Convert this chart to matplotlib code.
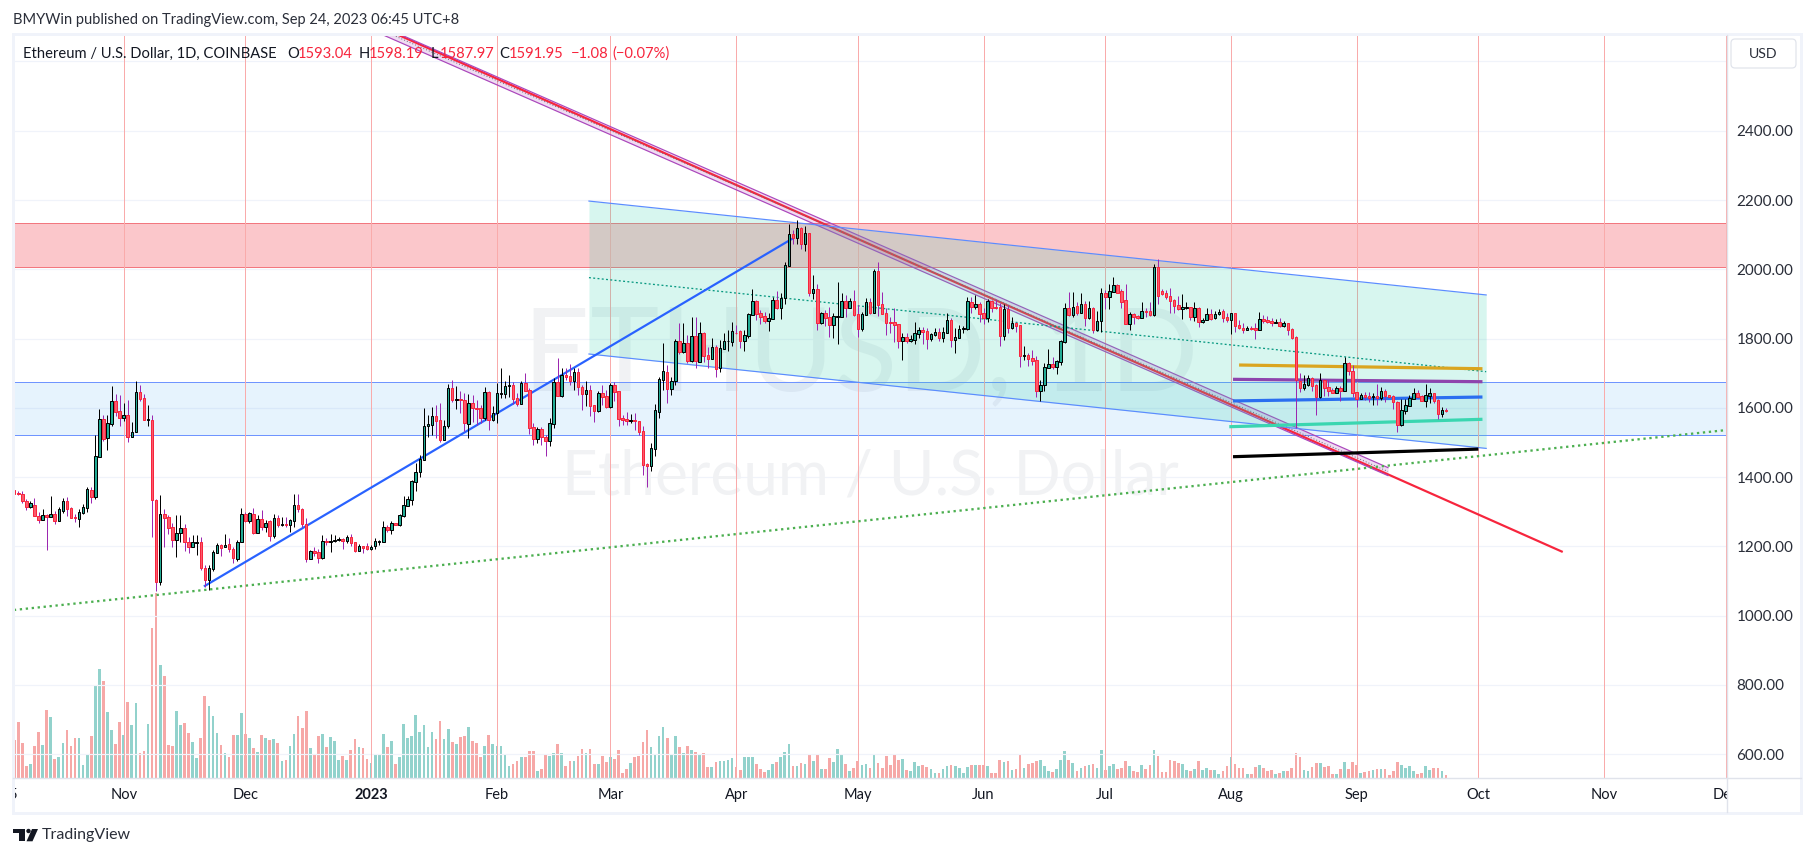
import matplotlib
matplotlib.use("Agg")
import matplotlib.pyplot as plt
import matplotlib.dates as mdates
from matplotlib.patches import Rectangle, FancyBboxPatch, Circle, Polygon
import numpy as np
import pandas as pd

first_date = "2022-10-05"

opens = [1362,1353,1350,1330,1314,1321,1289,1277,1292,1286,
1295,1274,1303,1330,1311,1285,1280,1297,1312,1364,
1343,1459,1567,1514,1554,1619,1590,1571,1578,1517,
1529,1645,1628,1566,1566,1333,1098,1295,1285,1255,
1219,1239,1252,1214,1199,1211,1214,1139,1103,1135,
1182,1203,1197,1206,1194,1164,1213,1295,1274,1295,
1239,1278,1256,1272,1231,1281,1262,1266,1262,1274,
1321,1307,1265,1164,1186,1184,1166,1217,1213,1217,
1219,1221,1216,1226,1212,1187,1200,1200,1193,1200,
1214,1213,1255,1248,1269,1263,1288,1318,1335,1387,
1415,1450,1549,1551,1576,1564,1508,1548,1656,1623,
1627,1624,1554,1613,1601,1599,1570,1645,1565,1584,
1641,1641,1662,1665,1628,1612,1672,1651,1544,1511,
1538,1516,1505,1554,1675,1634,1694,1692,1679,1703,
1659,1641,1651,1607,1591,1642,1634,1603,1666,1648,
1571,1567,1563,1565,1562,1532,1437,1431,1482,1589,
1681,1703,1654,1677,1793,1762,1786,1735,1807,1733,
1815,1752,1741,1775,1714,1771,1792,1791,1817,1822,
1794,1808,1869,1909,1873,1864,1850,1857,1910,1889,
1918,2010,2101,2091,2119,2074,2104,1933,1942,1846,
1873,1861,1839,1863,1863,1908,1889,1908,1870,1828,
1869,1905,1875,1995,1899,1873,1847,1847,1841,1793,
1806,1794,1797,1814,1825,1821,1799,1811,1819,1803,
1817,1853,1797,1803,1827,1829,1907,1891,1899,1873,
1859,1908,1890,1890,1807,1884,1830,1844,1838,1750,
1752,1743,1737,1649,1665,1716,1726,1718,1733,1791,
1887,1868,1893,1874,1899,1858,1887,1825,1850,1933,
1921,1935,1954,1936,1910,1843,1871,1864,1860,1880,
1879,1868,2006,1936,1931,1922,1910,1896,1886,1888,
1890,1862,1888,1848,1855,1871,1858,1871,1879,1861,
1854,1873,1838,1832,1826,1832,1830,1826,1856,1853,
1850,1846,1848,1836,1844,1827,1804,1679,1657,1667,
1685,1666,1631,1680,1659,1652,1644,1658,1650,1729,
1706,1645,1627,1636,1635,1630,1633,1629,1649,1636,
1634,1617,1550,1592,1606,1627,1642,1633,1621,1635,
1642,1622,1583,1593.04]

highs = [1385,1361,1361,1336,1330,1339,1300,1307,1295,1345,
1303,1314,1339,1342,1314,1295,1307,1322,1371,1371,
1523,1596,1579,1578,1663,1640,1637,1615,1622,1559,
1677,1666,1640,1608,1579,1336,1348,1307,1290,1268,
1290,1290,1266,1228,1233,1233,1226,1146,1146,1189,
1209,1207,1235,1223,1199,1220,1311,1300,1300,1311,
1290,1305,1276,1276,1293,1290,1284,1285,1278,1351,
1351,1310,1281,1189,1199,1194,1233,1223,1237,1233,
1228,1225,1233,1235,1214,1207,1201,1209,1204,1223,
1220,1273,1262,1274,1269,1295,1345,1345,1391,1440,
1464,1599,1579,1603,1608,1614,1565,1669,1680,1663,
1649,1642,1640,1637,1622,1608,1661,1649,1605,1671,
1714,1677,1695,1676,1642,1678,1700,1656,1555,1544,
1546,1522,1570,1685,1744,1714,1714,1727,1714,1714,
1666,1679,1666,1607,1649,1666,1652,1671,1676,1648,
1579,1588,1582,1584,1563,1548,1440,1498,1611,1690,
1786,1724,1690,1799,1844,1846,1810,1863,1861,1849,
1820,1777,1801,1781,1796,1815,1825,1847,1839,1825,
1825,1873,1942,1911,1883,1878,1873,1921,1937,1931,
2022,2131,2113,2142,2123,2125,2106,1984,1958,1878,
1883,1890,1873,1962,1931,1926,1918,1940,1897,1878,
1916,1916,2000,2022,1935,1887,1863,1887,1843,1815,
1815,1810,1849,1834,1834,1832,1815,1832,1830,1834,
1875,1858,1830,1839,1836,1919,1921,1926,1907,1887,
1913,1911,1913,1902,1899,1897,1861,1849,1839,1779,
1759,1767,1750,1680,1729,1770,1746,1738,1796,1902,
1935,1935,1906,1933,1908,1909,1890,1880,1945,1940,
1959,1977,1959,1942,1958,1878,1873,1867,1906,1887,
1907,2015,2030,1942,1940,1945,1913,1923,1929,1906,
1890,1905,1890,1858,1887,1884,1880,1884,1884,1873,
1875,1875,1854,1844,1836,1836,1844,1877,1868,1866,
1858,1856,1858,1852,1846,1830,1807,1700,1694,1695,
1688,1669,1700,1682,1680,1656,1663,1663,1746,1733,
1725,1647,1644,1646,1645,1642,1669,1659,1654,1637,
1636,1619,1625,1625,1637,1656,1652,1637,1669,1656,
1644,1625,1602,1598.19]

lows = [1317,1348,1326,1305,1310,1287,1268,1276,1189,1286,
1265,1273,1297,1287,1281,1270,1256,1295,1299,1326,
1338,1459,1505,1478,1548,1576,1548,1563,1502,1517,
1529,1620,1565,1548,1228,1071,1088,1199,1236,1199,
1170,1213,1186,1180,1199,1175,1132,1084,1074,1128,
1181,1172,1197,1185,1153,1159,1212,1271,1268,1236,
1239,1247,1241,1215,1223,1257,1259,1257,1241,1257,
1300,1257,1155,1164,1172,1153,1164,1204,1185,1213,
1216,1192,1211,1201,1183,1186,1182,1191,1189,1194,
1204,1213,1242,1236,1263,1259,1286,1318,1319,1361,
1401,1449,1517,1521,1512,1502,1507,1543,1618,1598,
1586,1534,1514,1560,1550,1555,1565,1536,1563,1557,
1628,1628,1632,1611,1605,1612,1648,1525,1493,1500,
1493,1461,1490,1543,1634,1632,1680,1666,1652,1637,
1594,1605,1577,1560,1589,1608,1599,1599,1621,1548,
1551,1551,1557,1536,1522,1406,1373,1418,1462,1572,
1653,1615,1637,1666,1755,1759,1729,1732,1716,1733,
1733,1716,1741,1690,1704,1769,1765,1780,1812,1773,
1765,1801,1867,1854,1842,1846,1823,1856,1884,1857,
1900,2010,2072,2073,2059,2054,1923,1915,1825,1842,
1836,1806,1802,1784,1861,1863,1887,1866,1805,1823,
1868,1872,1873,1865,1871,1810,1815,1791,1774,1738,
1786,1791,1784,1801,1784,1770,1794,1807,1793,1791,
1815,1777,1759,1801,1817,1825,1873,1884,1849,1842,
1849,1878,1884,1779,1796,1815,1827,1820,1717,1738,
1721,1724,1632,1620,1649,1714,1711,1698,1724,1788,
1866,1863,1868,1873,1836,1856,1817,1823,1820,1886,
1886,1935,1931,1887,1842,1825,1842,1856,1858,1863,
1865,1865,1900,1925,1915,1875,1875,1882,1857,1884,
1854,1852,1834,1844,1854,1854,1856,1869,1848,1849,
1813,1819,1827,1815,1825,1825,1799,1826,1846,1844,
1836,1844,1834,1833,1810,1798,1541,1646,1653,1663,
1650,1579,1629,1634,1635,1642,1642,1621,1650,1696,
1630,1603,1625,1623,1618,1608,1608,1623,1618,1630,
1597,1531,1548,1582,1605,1626,1628,1619,1603,1613,
1613,1569,1575,1587.97]

closes = [1352,1351,1330,1314,1324,1289,1277,1292,1286,1295,
1274,1307,1330,1309,1283,1281,1298,1313,1365,1343,
1460,1567,1511,1555,1619,1589,1571,1578,1517,1529,
1645,1626,1566,1567,1333,1098,1295,1283,1254,1219,
1240,1252,1213,1199,1212,1214,1137,1104,1137,1183,
1203,1196,1203,1192,1166,1214,1295,1274,1296,1239,
1279,1256,1269,1231,1281,1262,1266,1263,1275,1321,
1307,1265,1164,1186,1182,1167,1217,1213,1217,1220,
1221,1217,1226,1211,1187,1200,1196,1194,1199,1215,
1216,1255,1247,1269,1263,1290,1319,1336,1388,1416,
1451,1549,1552,1576,1563,1508,1549,1656,1624,1627,
1623,1555,1613,1601,1597,1571,1645,1566,1584,1642,
1644,1663,1665,1627,1612,1672,1650,1543,1510,1538,
1515,1505,1555,1675,1635,1694,1690,1678,1703,1659,
1641,1651,1606,1591,1642,1632,1603,1666,1647,1569,
1565,1563,1565,1561,1531,1436,1431,1483,1594,1682,
1706,1654,1678,1793,1762,1786,1735,1807,1735,1815,
1750,1742,1775,1713,1772,1793,1793,1822,1816,1794,
1809,1870,1908,1872,1863,1850,1858,1910,1887,1918,
2011,2101,2091,2118,2072,2104,1933,1942,1846,1873,
1860,1839,1864,1865,1908,1889,1908,1868,1829,1870,
1905,1875,1995,1898,1872,1846,1845,1840,1793,1806,
1793,1798,1815,1825,1820,1799,1812,1819,1802,1818,
1853,1797,1805,1827,1831,1908,1891,1899,1872,1859,
1908,1889,1888,1807,1884,1831,1844,1837,1750,1752,
1742,1736,1649,1666,1717,1726,1718,1734,1792,1887,
1868,1892,1874,1899,1858,1887,1825,1851,1933,1920,
1936,1954,1933,1907,1843,1871,1862,1860,1879,1877,
1868,2006,1924,1929,1920,1908,1895,1885,1890,1890,
1863,1887,1849,1855,1870,1856,1872,1878,1860,1854,
1873,1837,1831,1825,1832,1827,1826,1856,1851,1848,
1846,1848,1837,1845,1826,1801,1680,1658,1669,1685,
1664,1631,1680,1658,1650,1644,1657,1650,1729,1705,
1644,1627,1636,1631,1629,1633,1629,1649,1634,1632,
1616,1550,1593,1607,1629,1642,1632,1621,1636,1642,
1621,1583,1593,1591.95]

volumes = [114,168,105,36,42,96,138,99,204,183,
57,63,105,144,96,120,120,39,72,126,
279,327,291,198,144,102,168,129,228,159,
225,75,81,162,450,555,339,306,99,96,
201,159,165,135,108,60,120,246,216,186,
135,99,75,63,129,129,195,132,120,90,
78,129,120,114,117,105,51,54,96,132,
186,150,201,90,69,126,132,93,123,111,
54,66,54,84,117,93,90,57,45,72,
72,132,93,111,42,63,162,120,126,189,
138,159,93,138,117,171,117,147,108,102,
123,126,153,111,105,63,96,129,102,96,
96,69,36,42,51,63,63,81,81,21,
27,72,66,75,102,75,36,51,51,66,
87,75,87,42,42,66,48,63,57,84,
15,27,45,63,66,108,144,93,69,126,
153,120,69,126,93,75,96,84,78,72,
75,33,33,48,51,51,54,60,33,24,
63,63,63,42,27,18,24,42,48,63,
78,102,36,36,45,42,72,51,72,27,
27,60,48,87,69,42,21,30,51,39,
42,30,72,45,30,66,39,69,54,57,
24,21,48,36,39,33,27,15,15,27,
36,39,36,30,15,33,39,39,39,39,
36,15,15,54,48,51,24,27,72,30,
42,45,51,54,36,21,18,27,54,81,
54,45,21,30,36,39,42,30,84,24,
36,42,27,30,51,36,21,18,39,27,
39,84,66,18,18,54,51,45,42,24,
21,27,51,24,30,24,24,12,21,36,
63,42,30,30,12,12,33,39,30,21,
24,12,15,21,21,30,75,63,24,21,
33,45,45,33,36,12,12,27,48,27,
48,39,15,18,21,24,27,27,27,9,
21,48,39,30,36,21,12,15,36,24,
30,30,21,9]

price_ticks = [600, 800, 1000, 1200, 1400, 1600, 1800, 2000, 2200, 2400]
month_dates = ["2022-11-01", "2022-12-01", "2023-01-01", "2023-02-01", "2023-03-01", "2023-04-01",
               "2023-05-01", "2023-06-01", "2023-07-01", "2023-08-01", "2023-09-01", "2023-10-01",
               "2023-11-01", "2023-12-01"]
month_labels = ["Nov", "Dec", "2023", "Feb", "Mar", "Apr", "May", "Jun", "Jul", "Aug", "Sep", "Oct", "Nov", "Dec"]
first_tick = "2022-10-05"

red_zone = (2006, 2133)
blue_zone = (1521, 1674)

wedge_dates = ("2023-02-23 17:00", "2023-10-02 22:00")
wedge_top = (2197, 1926)
wedge_bottom = (1755.5, 1483)
wedge_mid = (1976, 1704.5)

rise_dates = ("2022-11-21", "2023-04-15")
rise_prices = (1086, 2089.5)
support_dates = ("2022-10-04 22:00", "2023-12-01 05:00")
support_prices = (1016.5, 1536)
fall_dates = ("2023-01-01", "2023-10-21 19:00")
fall_prices = (2711.6, 1184)
chan_dates = ("2023-01-01", "2023-09-08 17:00")
chan_upper = (2714.8, 1427.5)
chan_lower = (2691.7, 1404.4)
chan_mid = (2703.8, 1416.4)

gold_dates = ("2023-08-03", "2023-10-02")
gold_prices = (1723.7, 1713)
violet_dates = ("2023-08-01 12:00", "2023-10-02")
violet_prices = (1682.4, 1675.5)
azure_dates = ("2023-08-01 12:00", "2023-10-02")
azure_prices = (1620, 1631.3)
mint_dates = ("2023-07-31 14:00", "2023-10-02")
mint_prices = (1545.6, 1567)
black_dates = ("2023-08-01 12:00", "2023-10-01")
black_prices = (1459, 1481)

W, H = 1815, 857
PANE_L, PANE_R, PANE_T, PANE_B = 13.4, 1727.0, 35.0, 778.0
PX_PER_DAY = 4.056
NOV1_PX = 123.7
FONT = "Lato"
TEXT = "#131722"
VOL_TOP = (PANE_B - PANE_T) * 3


def num(d):
    return mdates.datestr2num(d)


def px(v):
    return v * 0.72


fig = plt.figure(figsize=(W / 100, H / 100), dpi=100, facecolor="white")


def rect(l, t, r, b):
    return [l / W, 1 - b / H, (r - l) / W, (b - t) / H]


vax = fig.add_axes(rect(PANE_L, PANE_T, PANE_R, PANE_B), zorder=1)
ax = fig.add_axes(rect(PANE_L, PANE_T, PANE_R, PANE_B), zorder=2)
ax.patch.set_visible(False)

nov1 = num("2022-11-01")
xlim = (nov1 - (NOV1_PX - PANE_L) / PX_PER_DAY, nov1 + (PANE_R - NOV1_PX) / PX_PER_DAY)
ylim = (531.5, 2676.4)
for a in (ax, vax):
    a.set_xlim(xlim)
    for s in a.spines.values():
        s.set_visible(False)
ax.set_ylim(ylim)
vax.set_ylim(0, VOL_TOP)
vax.set_xticks([])
vax.set_yticks([])
ax.set_xticks([])

dates = pd.date_range(first_date, periods=len(closes))
xs = mdates.date2num(dates)
o, h, l, c = map(np.array, (opens, highs, lows, closes))
up = c >= o

# volume
vax.bar(xs[up], np.array(volumes)[up], width=0.66, color="#26a69a", alpha=0.5, linewidth=0)
vax.bar(xs[~up], np.array(volumes)[~up], width=0.66, color="#ef5350", alpha=0.5, linewidth=0)

# grid
ax.hlines(price_ticks + [2600], *xlim, color="#f0f3fa", lw=px(1.2), zorder=0.5)

# watermark
ax.text(0.4945, 0.5 + (PANE_T + (PANE_B - PANE_T) / 2 - 358) / (PANE_B - PANE_T), "ETHUSD, 1D", transform=ax.transAxes,
        ha="center", va="center", fontsize=84, family=FONT, color="#f1f2f4", zorder=0.6)
ax.text(0.5, 0.5 + (PANE_T + (PANE_B - PANE_T) / 2 - 477) / (PANE_B - PANE_T), "Ethereum / U.S. Dollar", transform=ax.transAxes,
        ha="center", va="center", fontsize=44.7, family=FONT, color="#f1f2f4", zorder=0.6)

# zones
ax.axhspan(*red_zone, facecolor="#f23645", alpha=0.28, edgecolor="none", zorder=1)
ax.axhline(red_zone[0], color="#f2777f", lw=px(1), zorder=1.1)
ax.axhline(red_zone[1], color="#f2777f", lw=px(1), zorder=1.1)
ax.axhspan(*blue_zone, facecolor="#2196f3", alpha=0.11, edgecolor="none", zorder=1)
ax.axhline(blue_zone[0], color="#6f94ff", lw=px(1), zorder=1.1)
ax.axhline(blue_zone[1], color="#6f94ff", lw=px(1), zorder=1.1)

# month lines
for d in [first_tick] + month_dates:
    ax.axvline(num(d), color="#f9abab", lw=px(1), zorder=1.2)

# falling line under the wedge
ax.plot([num(d) for d in fall_dates], fall_prices, color="#f7253d", lw=px(2.2), zorder=1.3, solid_capstyle="butt")
cx = [num(d) for d in chan_dates]
ax.fill_between(cx, chan_lower, chan_upper, color="#9c27b0", alpha=0.16, linewidth=0, zorder=1.25)
ax.plot(cx, chan_upper, color="#ab47bc", lw=px(1.2), zorder=1.3)
ax.plot(cx, chan_lower, color="#ab47bc", lw=px(1.2), zorder=1.3)
ax.plot(cx, chan_mid, color="#6b6e78", lw=px(1), ls=(0, (1, 2)), zorder=1.3)

# wedge
wx = [num(d) for d in wedge_dates]
ax.fill_between(wx, wedge_bottom, wedge_top, color="#37d2af", alpha=0.2, linewidth=0, zorder=2)
ax.plot(wx, wedge_top, color="#5b8cff", lw=px(1.2), zorder=2.1)
ax.plot(wx, wedge_bottom, color="#5b8cff", lw=px(1.2), zorder=2.1)
ax.plot(wx, wedge_mid, color="#089981", lw=px(1.3), ls=(0, (1.5, 1.8)), zorder=2.1)

# trend lines
ax.plot([num(d) for d in rise_dates], rise_prices, color="#2962ff", lw=px(2.2), zorder=3)
ax.plot([num(d) for d in support_dates], support_prices, color="#4caf50", lw=px(2.3), ls=(0, (1, 1.6)), zorder=3)
for ds, ps, col in [(gold_dates, gold_prices, "#daa520"), (violet_dates, violet_prices, "#8e44ad"),
                    (azure_dates, azure_prices, "#2a6ef0"), (mint_dates, mint_prices, "#3ad6b0"),
                    (black_dates, black_prices, "#000000")]:
    ax.plot([num(d) for d in ds], ps, color=col, lw=px(3.2), zorder=3, solid_capstyle="butt")

# candles
ax.vlines(xs[up], l[up], h[up], color="#000000", lw=px(1), zorder=5)
ax.vlines(xs[~up], l[~up], h[~up], color="#9c27b0", lw=px(1), zorder=5)
ax.bar(xs[up], (c - o)[up], bottom=o[up], width=0.62, color="#22ab94", edgecolor="#000000", linewidth=px(1), zorder=6)
ax.bar(xs[~up], (o - c)[~up], bottom=c[~up], width=0.62, color="#fb5a6c", edgecolor="#f7253d", linewidth=px(1), zorder=6)

# price axis
ax.yaxis.tick_right()
ax.set_yticks(price_ticks)
ax.set_yticklabels([f"{p:.2f}" for p in price_ticks], family=FONT, fontsize=11, color="#2a2e39")
ax.tick_params(axis="y", length=0, pad=px(9.5))

# time axis strip
tax = fig.add_axes(rect(PANE_L, PANE_B, PANE_R, 812), zorder=1)
tax.set_xlim(xlim)
tax.set_ylim(0, 1)
tax.axis("off")
for d, lab in zip(month_dates, month_labels):
    tax.text(num(d), 0.5, lab, ha="center", va="center", family=FONT, fontsize=10.5, color=TEXT,
             fontweight="bold" if lab == "2023" else "normal", clip_on=True)
tax.text(num(first_tick) - 0.4, 0.5, "5", ha="center", va="center", family=FONT, fontsize=10.5, color=TEXT, clip_on=True)

# frame
overlay = fig.add_axes([0, 0, 1, 1], zorder=3)
overlay.set_xlim(0, W)
overlay.set_ylim(H, 0)
overlay.axis("off")
overlay.add_patch(Rectangle((13, 33.5), 1788, 779, fill=False, edgecolor="#f0f3fa", lw=px(3)))
overlay.plot([13, 1801], [778, 778], color="#e0e3eb", lw=px(1.4))
overlay.plot([1727.5, 1727.5], [35, 812], color="#e0e3eb", lw=px(1.4))
overlay.add_patch(FancyBboxPatch((1731, 39), 65, 29, boxstyle="round,pad=0,rounding_size=4", facecolor="white",
                                 edgecolor="#e0e3eb", lw=px(1.2)))
overlay.text(1763, 54, "USD", ha="center", va="center", family=FONT, fontsize=10.2, color="#2a2e39")

overlay.text(13, 20, "BMYWin published on TradingView.com, Sep 24, 2023 06:45 UTC+8", ha="left", va="center",
             family=FONT, fontsize=10.5, color="#2a2e39")

LEG_RED = "#f7253d"
for x_, s, col in [(23, "Ethereum / U.S. Dollar, 1D, COINBASE", TEXT), (287, "O", TEXT), (298, "1593.04", LEG_RED),
                   (358.5, "H", TEXT), (369, "1598.19", LEG_RED), (431, "L", TEXT), (440, "1587.97", LEG_RED),
                   (499, "C", TEXT), (509, "1591.95", LEG_RED), (570.5, "\u22121.08", LEG_RED),
                   (612.5, "(\u22120.07%)", LEG_RED)]:
    overlay.text(x_, 54, s, ha="left", va="center", family=FONT, fontsize=10.6, color=col)

# logo
overlay.add_patch(Rectangle((13, 829), 12, 4.2, color="#131722", lw=0))
overlay.add_patch(Rectangle((19, 829), 6, 12.3, color="#131722", lw=0))
overlay.add_patch(Circle((28.5, 831), 2.2, color="#131722", lw=0))
overlay.add_patch(Polygon([(32, 829), (38, 829), (32.5, 841.3), (26.5, 841.3)], color="#131722", lw=0))
overlay.text(42, 835.5, "TradingView", ha="left", va="center", family=FONT, fontsize=11.5, color="#2a2e39")

fig.savefig("out.png", dpi=100, facecolor="white")
